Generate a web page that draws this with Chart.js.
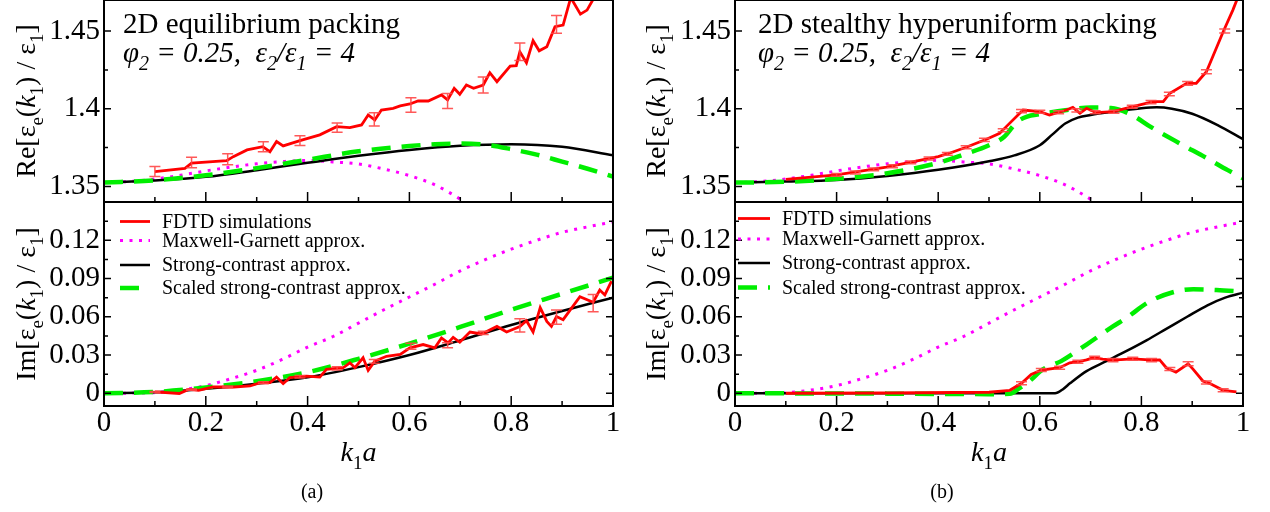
<!DOCTYPE html>
<html>
<head>
<meta charset="utf-8">
<script src="https://cdn.jsdelivr.net/npm/chart.js@4.4.1/dist/chart.umd.min.js"></script>
<style>
  body { margin: 0; width: 1270px; height: 512px; background: #fff; position: relative; overflow: hidden; }
  canvas { position: absolute; }
  .cap { position: absolute; top: 480px; width: 60px; text-align: center; font: 20px "Liberation Serif", serif; color: #000; }
</style>
</head>
<body>
<canvas id="aRe" width="630" height="202" style="left:0;top:0"></canvas>
<canvas id="aIm" width="630" height="310" style="left:0;top:202px"></canvas>
<canvas id="bRe" width="640" height="202" style="left:630px;top:0"></canvas>
<canvas id="bIm" width="640" height="310" style="left:630px;top:202px"></canvas>
<div class="cap" style="left:282px">(a)</div>
<div class="cap" style="left:912px">(b)</div>
<script>
// ---- data ----
const xTicks = [0, 0.2, 0.4, 0.6, 0.8, 1];
const xMinor = [0.1, 0.3, 0.5, 0.7, 0.9];
const reTicks = [1.35, 1.4, 1.45];
const reMinor = [1.375, 1.425];
const imTicks = [0, 0.03, 0.06, 0.09, 0.12];
const imMinor = [0.015, 0.045, 0.075, 0.105, 0.135];

const seriesNames = ['FDTD simulations', 'Maxwell-Garnett approx.', 'Strong-contrast approx.', 'Scaled strong-contrast approx.'];

const kGrid = [0, 0.1, 0.2, 0.3, 0.4, 0.5, 0.6, 0.7, 0.8, 0.9, 1];
const kFine = [0, 0.05, 0.1, 0.15, 0.2, 0.25, 0.3, 0.35, 0.4, 0.45, 0.5, 0.55, 0.6, 0.65, 0.7, 0.75, 0.8, 0.85, 0.9, 0.95, 1];

// Maxwell-Garnett (same in both panels)
const mgRe = [1.3525, 1.3532, 1.3548, 1.3572, 1.3600, 1.3625, 1.3646, 1.3660, 1.3668, 1.3658, 1.3645, 1.3612, 1.3570, 1.3510, 1.3418, 1.3300, 1.3130, 1.2900, 1.2600, 1.2200, 1.1700];
const mgIm = [0, 0.0001, 0.0005, 0.0025, 0.0060, 0.0115, 0.0180, 0.0265, 0.0362, 0.0445, 0.0550, 0.0655, 0.0755, 0.0855, 0.0960, 0.1050, 0.1130, 0.1200, 0.1262, 0.1305, 0.1343];

// panel (a): equilibrium packing
const aScRe = [1.3525, 1.3538, 1.3562, 1.3605, 1.3652, 1.3697, 1.3735, 1.3762, 1.3772, 1.3755, 1.3700];
const aScaledK = [0, 0.1, 0.2, 0.3, 0.4, 0.5, 0.6, 0.65, 0.7, 0.75, 0.8, 0.85, 0.9, 0.95, 1];
const aScaledRe = [1.3525, 1.3540, 1.3572, 1.3618, 1.3672, 1.3726, 1.3760, 1.3772, 1.3776, 1.3768, 1.3740, 1.3705, 1.3660, 1.3614, 1.3564];
const aFdtdReK = [0.1, 0.159, 0.172, 0.241, 0.254, 0.281, 0.312, 0.326, 0.339, 0.352, 0.385, 0.424, 0.457, 0.483, 0.506, 0.519, 0.532, 0.545, 0.568, 0.582, 0.601, 0.617, 0.637, 0.663, 0.675, 0.688, 0.699, 0.712, 0.726, 0.745, 0.758, 0.772, 0.798, 0.81, 0.817, 0.83, 0.843, 0.855, 0.87, 0.886, 0.902, 0.917, 0.936, 0.949, 0.962, 1];
const aFdtdRe = [1.3596, 1.3617, 1.3650, 1.3666, 1.3692, 1.3735, 1.3756, 1.3724, 1.3789, 1.3761, 1.3795, 1.3832, 1.3885, 1.3879, 1.3896, 1.3960, 1.3928, 1.3992, 1.4003, 1.4018, 1.4031, 1.4050, 1.4050, 1.4089, 1.4057, 1.4132, 1.4093, 1.4153, 1.4132, 1.4153, 1.4232, 1.4174, 1.4275, 1.4278, 1.4367, 1.4296, 1.4438, 1.4373, 1.4399, 1.4528, 1.4539, 1.4715, 1.4609, 1.4635, 1.4710, 1.5000];
const aErrK = [0.1, 0.172, 0.243, 0.313, 0.385, 0.458, 0.531, 0.603, 0.675, 0.745, 0.817, 0.889, 0.961];
const aErrRe = [1.3596, 1.3654, 1.3675, 1.3756, 1.3795, 1.3879, 1.3932, 1.4024, 1.4050, 1.4153, 1.4367, 1.4543, 1.4800];
const aErrReD = [0.0032, 0.0034, 0.0035, 0.0032, 0.0031, 0.0030, 0.0043, 0.0047, 0.0048, 0.0051, 0.0056, 0.0057, 0.0060];

const aScIm = [0, 0.0008, 0.0035, 0.0075, 0.0125, 0.0205, 0.0300, 0.0415, 0.0535, 0.0645, 0.0750];
const aScaledIm = [0, 0.0010, 0.0045, 0.0095, 0.0165, 0.0270, 0.0390, 0.0520, 0.0655, 0.0780, 0.0906];
const aFdtdImK = [0.1, 0.148, 0.166, 0.186, 0.215, 0.255, 0.287, 0.307, 0.326, 0.339, 0.352, 0.365, 0.398, 0.424, 0.437, 0.47, 0.483, 0.493, 0.509, 0.519, 0.532, 0.555, 0.582, 0.601, 0.627, 0.65, 0.663, 0.676, 0.686, 0.699, 0.719, 0.742, 0.772, 0.791, 0.817, 0.83, 0.843, 0.857, 0.87, 0.879, 0.889, 0.902, 0.935, 0.961, 0.974, 0.984, 0.997];
const aFdtdIm = [0.0010, -0.0002, 0.0030, 0.0023, 0.0049, 0.0049, 0.0057, 0.0083, 0.0083, 0.0127, 0.0075, 0.0122, 0.0135, 0.0127, 0.0187, 0.0200, 0.0239, 0.0200, 0.0278, 0.0179, 0.0252, 0.0290, 0.0304, 0.0356, 0.0382, 0.0356, 0.0434, 0.0395, 0.0439, 0.0400, 0.0480, 0.0465, 0.0524, 0.0481, 0.0524, 0.0569, 0.0481, 0.0672, 0.0563, 0.0524, 0.0602, 0.0577, 0.0758, 0.0714, 0.0810, 0.0771, 0.0880];
const aErrIm = [0.0010, 0.0028, 0.0049, 0.0083, 0.0130, 0.0195, 0.0250, 0.0369, 0.0377, 0.0473, 0.0532, 0.0597, 0.0707];
const aErrImD = [0.0004, 0.0005, 0.0006, 0.0008, 0.0010, 0.0012, 0.0015, 0.0023, 0.0020, 0.0013, 0.0052, 0.0056, 0.0068];

// panel (b): stealthy hyperuniform packing
const bScReK = [0, 0.1, 0.2, 0.3, 0.4, 0.5, 0.55, 0.6, 0.625, 0.65, 0.675, 0.7, 0.75, 0.8, 0.83, 0.86, 0.9, 0.95, 1];
const bScRe = [1.3525, 1.3532, 1.3542, 1.3568, 1.3607, 1.3662, 1.3700, 1.3765, 1.3835, 1.3905, 1.3943, 1.3960, 1.3983, 1.4003, 1.4009, 1.4000, 1.3968, 1.3895, 1.3804];
const bScaledReK = [0, 0.1, 0.2, 0.3, 0.4, 0.45, 0.5, 0.53, 0.555, 0.575, 0.6, 0.65, 0.7, 0.74, 0.78, 0.82, 0.875, 0.93, 0.97, 1];
const bScaledRe = [1.3525, 1.3530, 1.3549, 1.3585, 1.3652, 1.3705, 1.3765, 1.3820, 1.3915, 1.3950, 1.3965, 1.3990, 1.4008, 1.4005, 1.3962, 1.3880, 1.3778, 1.3680, 1.3605, 1.3553];
const bFdtdReK = [0.1, 0.2, 0.298, 0.4, 0.422, 0.455, 0.495, 0.521, 0.534, 0.567, 0.6, 0.619, 0.652, 0.665, 0.679, 0.692, 0.711, 0.744, 0.783, 0.823, 0.843, 0.856, 0.889, 0.908, 0.928, 0.961, 0.98, 1];
const bFdtdRe = [1.3545, 1.3574, 1.3624, 1.3692, 1.3714, 1.3752, 1.3804, 1.3842, 1.3885, 1.3992, 1.3981, 1.3960, 1.3992, 1.4009, 1.3971, 1.4003, 1.3975, 1.3981, 1.4014, 1.4046, 1.4046, 1.4100, 1.4164, 1.4164, 1.4238, 1.4496, 1.4635, 1.4800];
const bErrReK = [0.2, 0.237, 0.273, 0.31, 0.346, 0.382, 0.418, 0.455, 0.491, 0.528, 0.564, 0.6, 0.637, 0.673, 0.709, 0.746, 0.782, 0.819, 0.855, 0.891, 0.928, 0.964];
const bErrRe = [1.3574, 1.3590, 1.3610, 1.3630, 1.3655, 1.3680, 1.3710, 1.3752, 1.3800, 1.3862, 1.3985, 1.3981, 1.3978, 1.3990, 1.3978, 1.3981, 1.4013, 1.4043, 1.4095, 1.4164, 1.4238, 1.4500];
const bErrReD = [0.0009, 0.0009, 0.0009, 0.0009, 0.0009, 0.0009, 0.0009, 0.0010, 0.0010, 0.0010, 0.0010, 0.0010, 0.0010, 0.0010, 0.0010, 0.0010, 0.0010, 0.0010, 0.0012, 0.0012, 0.0013, 0.0013];

const bScImK = [0, 0.63, 0.645, 0.66, 0.692, 0.731, 0.77, 0.81, 0.849, 0.89, 0.93, 0.965, 1];
const bScIm = [0, 0, 0.0030, 0.0080, 0.0174, 0.0252, 0.0330, 0.0415, 0.0505, 0.0600, 0.0690, 0.0750, 0.0788];
const bScaledImK = [0, 0.3, 0.5, 0.541, 0.56, 0.58, 0.606, 0.642, 0.692, 0.744, 0.77, 0.816, 0.862, 0.902, 0.948, 1];
const bScaledIm = [0, -0.0003, -0.0007, -0.0004, 0.0040, 0.0096, 0.0187, 0.0252, 0.0382, 0.0524, 0.0590, 0.0719, 0.0792, 0.0816, 0.0810, 0.0797];
const bFdtdImK = [0.1, 0.3, 0.5, 0.541, 0.564, 0.583, 0.603, 0.639, 0.659, 0.675, 0.692, 0.705, 0.724, 0.744, 0.783, 0.823, 0.836, 0.849, 0.868, 0.892, 0.902, 0.921, 0.934, 0.961, 0.987];
const bFdtdIm = [0, 0.0002, 0.0008, 0.0023, 0.0078, 0.0148, 0.0182, 0.0200, 0.0239, 0.0247, 0.0262, 0.0278, 0.0267, 0.0260, 0.0270, 0.0260, 0.0262, 0.0200, 0.0166, 0.0231, 0.0187, 0.0096, 0.0078, 0.0023, 0.0010];
const bErrImK = [0.564, 0.603, 0.639, 0.675, 0.708, 0.744, 0.783, 0.82, 0.856, 0.892, 0.928, 0.961];
const bErrIm = [0.0078, 0.0182, 0.0200, 0.0247, 0.0278, 0.0260, 0.0270, 0.0260, 0.0190, 0.0231, 0.0085, 0.0023];
const bErrImD = [0.0012, 0.0012, 0.0012, 0.0012, 0.0012, 0.0012, 0.0012, 0.0012, 0.0012, 0.0016, 0.0012, 0.0012];

// ---- drawing helpers ----
const SERIF = '"Liberation Serif", "Times New Roman", serif';

function pts(k, v) {
  return k.map((x, i) => ({ x: x, y: v[i] }));
}

// text with italic ('i') and subscript ('s') pieces
function rich(ctx, parts, x, y, size, align) {
  const fontOf = (f, sz) => (f.includes('i') ? 'italic ' : '') + sz + 'px ' + SERIF;
  let w = 0;
  const m = parts.map(([t, f]) => {
    const sz = f.includes('s') ? Math.round(size * 0.68) : size;
    ctx.font = fontOf(f, sz);
    const tw = ctx.measureText(t).width;
    w += tw;
    return [t, f, sz, tw];
  });
  let cx = align === 'center' ? x - w / 2 : x;
  ctx.textAlign = 'left';
  ctx.textBaseline = 'alphabetic';
  ctx.fillStyle = '#000';
  for (const [t, f, sz, tw] of m) {
    ctx.font = fontOf(f, sz);
    ctx.fillText(t, cx, f.includes('s') ? y + size * 0.28 : y);
    cx += tw;
  }
}

const decor = {
  id: 'decor',
  afterDatasetsDraw(chart, args, o) {
    if (!o.err) return;
    const ctx = chart.ctx, a = chart.chartArea, xs = chart.scales.x, ys = chart.scales.y;
    ctx.save();
    ctx.beginPath();
    ctx.rect(a.left, a.top, a.right - a.left, a.bottom - a.top);
    ctx.clip();
    ctx.strokeStyle = 'rgba(255, 70, 70, 0.9)';
    ctx.lineWidth = 1.5;
    o.err.k.forEach((k, i) => {
      const x = xs.getPixelForValue(k);
      const y1 = ys.getPixelForValue(o.err.v[i] - o.err.d[i]);
      const y2 = ys.getPixelForValue(o.err.v[i] + o.err.d[i]);
      ctx.beginPath();
      ctx.moveTo(x, y1); ctx.lineTo(x, y2);
      ctx.moveTo(x - 5.5, y1); ctx.lineTo(x + 5.5, y1);
      ctx.moveTo(x - 5.5, y2); ctx.lineTo(x + 5.5, y2);
      ctx.stroke();
    });
    ctx.restore();
  },
  afterDraw(chart, args, o) {
    const ctx = chart.ctx, a = chart.chartArea, xs = chart.scales.x, ys = chart.scales.y;
    ctx.save();
    ctx.strokeStyle = '#000';
    // inward tick marks
    ctx.lineWidth = 1.5;
    ctx.beginPath();
    const xt = (vals, len) => vals.forEach(v => {
      const x = xs.getPixelForValue(v);
      ctx.moveTo(x, a.bottom); ctx.lineTo(x, a.bottom - len);
    });
    const yt = (vals, len) => vals.forEach(v => {
      const y = ys.getPixelForValue(v);
      ctx.moveTo(a.left, y); ctx.lineTo(a.left + len, y);
      if (o.rightTicks) { ctx.moveTo(a.right, y); ctx.lineTo(a.right - len, y); }
    });
    xt(xTicks, 10); xt(xMinor, 5);
    yt(o.yMajor, 7); yt(o.yMinor, 4);
    ctx.stroke();
    // frame
    ctx.lineWidth = 2;
    ctx.strokeRect(a.left, a.top, a.right - a.left, a.bottom - a.top);

    // y axis title, rotated
    ctx.save();
    ctx.translate(o.yTitleX, (a.top + a.bottom) / 2);
    ctx.rotate(-Math.PI / 2);
    rich(ctx, [[o.yName + '[ε', ''], ['e', 's'], ['(', ''], ['k', 'i'], ['1', 's'], [') / ε', ''], ['1', 's'], [']', '']], 0, 9, 28, 'center');
    ctx.restore();

    // x axis title
    if (o.xTitle) {
      rich(ctx, [['k', 'i'], ['1', 's'], ['a', 'i']], (a.left + a.right) / 2, a.bottom + 55, 28, 'center');
    }

    // packing label
    if (o.label) {
      rich(ctx, [[o.label, '']], a.left + o.labelDx, 33, 29, 'left');
      rich(ctx, [['φ', 'i'], ['2', 'is'], [' = 0.25,  ε', 'i'], ['2', 'is'], ['/ε', 'i'], ['1', 'is'], [' = 4', 'i']], a.left + o.labelDx, 61.5, 29, 'left');
    }

    // legend, using each dataset's own line style
    if (o.legend) {
      const L = o.legend;
      chart.data.datasets.forEach((ds, i) => {
        const yb = a.top + L.base[i];
        ctx.save();
        ctx.strokeStyle = ds.borderColor;
        ctx.lineWidth = ds.borderWidth;
        ctx.setLineDash(ds.borderDash || []);
        ctx.beginPath();
        ctx.moveTo(a.left + L.x0, yb - 6);
        ctx.lineTo(a.left + L.x1, yb - 6);
        ctx.stroke();
        ctx.restore();
        rich(ctx, [[ds.label, '']], a.left + L.xt, yb, 20, 'left');
      });
    }
    ctx.restore();
  }
};

function makeDatasets(fdtd, mg, sc, scaled) {
  return [
    { label: seriesNames[0], data: fdtd, borderColor: '#ff0000', borderWidth: 2.8, order: 0 },
    { label: seriesNames[1], data: mg, borderColor: '#ff00ff', borderWidth: 3, borderDash: [3, 6.5], order: 3, cubicInterpolationMode: 'monotone' },
    { label: seriesNames[2], data: sc, borderColor: '#000000', borderWidth: 2.5, order: 2, cubicInterpolationMode: 'monotone' },
    { label: seriesNames[3], data: scaled, borderColor: '#00ee00', borderWidth: 4.5, borderDash: [19, 11], order: 1, cubicInterpolationMode: 'monotone' }
  ];
}

function makeChart(id, cfg) {
  return new Chart(document.getElementById(id), {
    type: 'line',
    data: { datasets: cfg.datasets },
    options: {
      responsive: false,
      animation: false,
      events: [],
      layout: { autoPadding: false, padding: { left: 0, top: 0, bottom: 0, right: cfg.padRight } },
      elements: { point: { radius: 0 }, line: { borderCapStyle: 'butt' } },
      datasets: { line: { clip: 0 } },
      plugins: {
        legend: { display: false },
        tooltip: { enabled: false },
        decor: cfg.decor
      },
      scales: {
        x: {
          type: 'linear', min: 0, max: 1,
          afterBuildTicks: s => { s.ticks = xTicks.map(v => ({ value: v })); },
          ticks: { display: cfg.xLabels, color: '#000', font: { family: SERIF, size: 29 }, padding: 0, maxRotation: 0, autoSkip: false, callback: v => String(v) },
          grid: { display: false, drawTicks: false },
          border: { display: false },
          afterFit: s => { s.height = cfg.xHeight; s.paddingLeft = 0; s.paddingRight = 0; }
        },
        y: {
          type: 'linear', min: cfg.yMin, max: cfg.yMax,
          afterBuildTicks: s => { s.ticks = cfg.yTicks.map(v => ({ value: v })); },
          ticks: { color: '#000', font: { family: SERIF, size: 29 }, padding: 4, autoSkip: false, callback: v => String(v) },
          grid: { display: false, drawTicks: false },
          border: { display: false },
          afterFit: s => { s.width = cfg.yWidth; s.paddingTop = 0; s.paddingBottom = 0; }
        }
      }
    },
    plugins: [decor]
  });
}

const legendA = { x0: 16, x1: 46, xt: 58, base: [25.5, 44.5, 69, 92] };
const legendB = { x0: 3, x1: 35, xt: 47, base: [22.5, 43, 67, 91.5] };

makeChart('aRe', {
  datasets: makeDatasets(pts(aFdtdReK, aFdtdRe), pts(kFine, mgRe), pts(kGrid, aScRe), pts(aScaledK, aScaledRe)),
  yMin: 1.34, yMax: 1.47, yTicks: reTicks, yWidth: 104, xHeight: 0, xLabels: false, padRight: 17,
  decor: { yMajor: reTicks, yMinor: reMinor, rightTicks: false, yName: 'Re', yTitleX: 26, label: '2D equilibrium packing', labelDx: 19,
           err: { k: aErrK, v: aErrRe, d: aErrReD } }
});
makeChart('aIm', {
  datasets: makeDatasets(pts(aFdtdImK, aFdtdIm), pts(kFine, mgIm), pts(kGrid, aScIm), pts(kGrid, aScaledIm)),
  yMin: -0.01, yMax: 0.15, yTicks: imTicks, yWidth: 104, xHeight: 106, xLabels: true, padRight: 17,
  decor: { yMajor: imTicks, yMinor: imMinor, rightTicks: true, yName: 'Im', yTitleX: 26, xTitle: true, legend: legendA,
           err: { k: aErrK, v: aErrIm, d: aErrImD } }
});
makeChart('bRe', {
  datasets: makeDatasets(pts(bFdtdReK, bFdtdRe), pts(kFine, mgRe), pts(bScReK, bScRe), pts(bScaledReK, bScaledRe)),
  yMin: 1.34, yMax: 1.47, yTicks: reTicks, yWidth: 105, xHeight: 0, xLabels: false, padRight: 27,
  decor: { yMajor: reTicks, yMinor: reMinor, rightTicks: true, yName: 'Re', yTitleX: 26, label: '2D stealthy hyperuniform packing', labelDx: 23,
           err: { k: bErrReK, v: bErrRe, d: bErrReD } }
});
makeChart('bIm', {
  datasets: makeDatasets(pts(bFdtdImK, bFdtdIm), pts(kFine, mgIm), pts(bScImK, bScIm), pts(bScaledImK, bScaledIm)),
  yMin: -0.01, yMax: 0.15, yTicks: imTicks, yWidth: 105, xHeight: 106, xLabels: true, padRight: 27,
  decor: { yMajor: imTicks, yMinor: imMinor, rightTicks: true, yName: 'Im', yTitleX: 26, xTitle: true, legend: legendB,
           err: { k: bErrImK, v: bErrIm, d: bErrImD } }
});
</script>
</body>
</html>
